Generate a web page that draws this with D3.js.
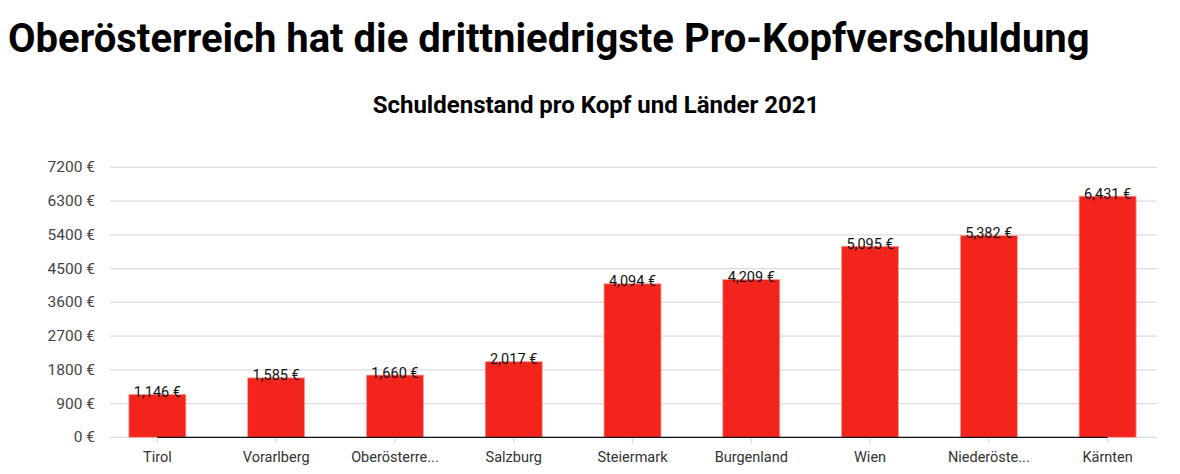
<!DOCTYPE html>
<html>
<head>
<meta charset="utf-8">
<script src="https://cdn.jsdelivr.net/npm/d3@7"></script>
<style>
  body { margin: 0; background: #fff; font-family: Roboto, "Noto Sans", sans-serif; }
</style>
</head>
<body>
<div id="chart"></div>
<script>
// data
var laender = ["Tirol", "Vorarlberg", "Oberösterreich", "Salzburg", "Steiermark", "Burgenland", "Wien", "Niederösterreich", "Kärnten"];
var tickLabels = ["Tirol", "Vorarlberg", "Oberösterre...", "Salzburg", "Steiermark", "Burgenland", "Wien", "Niederöste...", "Kärnten"];
var schuldenProKopf = [1146, 1585, 1660, 2017, 4094, 4209, 5095, 5382, 6431];
var yTicks = [0, 900, 1800, 2700, 3600, 4500, 5400, 6300, 7200];

var width = 1180, height = 474;

var svg = d3.select("#chart")
  .append("svg")
  .attr("width", width)
  .attr("height", height);

svg.append("text")
  .attr("x", 8)
  .attr("y", 52)
  .style("font-size", "40px")
  .style("font-weight", "bold")
  .style("fill", "#000")
  .text("Oberösterreich hat die drittniedrigste Pro-Kopfverschuldung");

svg.append("text")
  .attr("x", 596)
  .attr("y", 113)
  .attr("text-anchor", "middle")
  .style("font-size", "24px")
  .style("font-weight", "bold")
  .style("fill", "#000")
  .text("Schuldenstand pro Kopf und Länder 2021");

var x = d3.scaleBand()
  .domain(laender)
  .range([98, 1167])
  .paddingInner(0.52)
  .paddingOuter(0.26);

var y = d3.scaleLinear()
  .domain([0, 7200])
  .range([437.3, 167.3]);

// gridlines
svg.append("g")
  .selectAll("line")
  .data(yTicks)
  .join("line")
  .attr("x1", 110)
  .attr("x2", 1157)
  .attr("y1", function (d) { return y(d); })
  .attr("y2", function (d) { return y(d); })
  .style("stroke", "#dcdcdc")
  .style("stroke-width", 1.3);

// y labels
svg.append("g")
  .selectAll("text")
  .data(yTicks)
  .join("text")
  .attr("x", 95)
  .attr("y", function (d) { return y(d) + 5; })
  .attr("text-anchor", "end")
  .style("font-size", "15.5px")
  .style("fill", "#444")
  .text(function (d) { return d + " €"; });

// x axis tick marks
svg.append("g")
  .selectAll("line")
  .data(laender)
  .join("line")
  .attr("x1", function (d) { return x(d) + x.bandwidth() / 2; })
  .attr("x2", function (d) { return x(d) + x.bandwidth() / 2; })
  .attr("y1", y(0))
  .attr("y2", y(0) + 6)
  .style("stroke", "#dcdcdc")
  .style("stroke-width", 1.3);

// bars
svg.append("g")
  .selectAll("rect")
  .data(schuldenProKopf)
  .join("rect")
  .attr("x", function (d, i) { return x(laender[i]); })
  .attr("y", function (d) { return y(d); })
  .attr("width", x.bandwidth())
  .attr("height", function (d) { return y(0) - y(d); })
  .style("fill", "#f2241c")
  .style("stroke", "#f7a3a0")
  .style("stroke-width", 0.8);

// black baseline between first and last band center
svg.append("line")
  .attr("x1", x(laender[0]) + x.bandwidth() / 2)
  .attr("x2", x(laender[laender.length - 1]) + x.bandwidth() / 2)
  .attr("y1", y(0))
  .attr("y2", y(0))
  .style("stroke", "#111")
  .style("stroke-width", 1.3);

// x labels
svg.append("g")
  .selectAll("text")
  .data(tickLabels)
  .join("text")
  .attr("x", function (d, i) { return x(laender[i]) + x.bandwidth() / 2; })
  .attr("y", 462)
  .attr("text-anchor", "middle")
  .style("font-size", "14.5px")
  .style("fill", "#333")
  .text(function (d) { return d; });

// value labels
svg.append("g")
  .selectAll("text")
  .data(schuldenProKopf)
  .join("text")
  .attr("x", function (d, i) { return x(laender[i]) + x.bandwidth() / 2; })
  .attr("y", function (d) { return y(d) + 2.5; })
  .attr("text-anchor", "middle")
  .style("font-size", "14.5px")
  .style("fill", "#111")
  .text(function (d) { return d3.format(",")(d) + " €"; });
</script>
</body>
</html>
